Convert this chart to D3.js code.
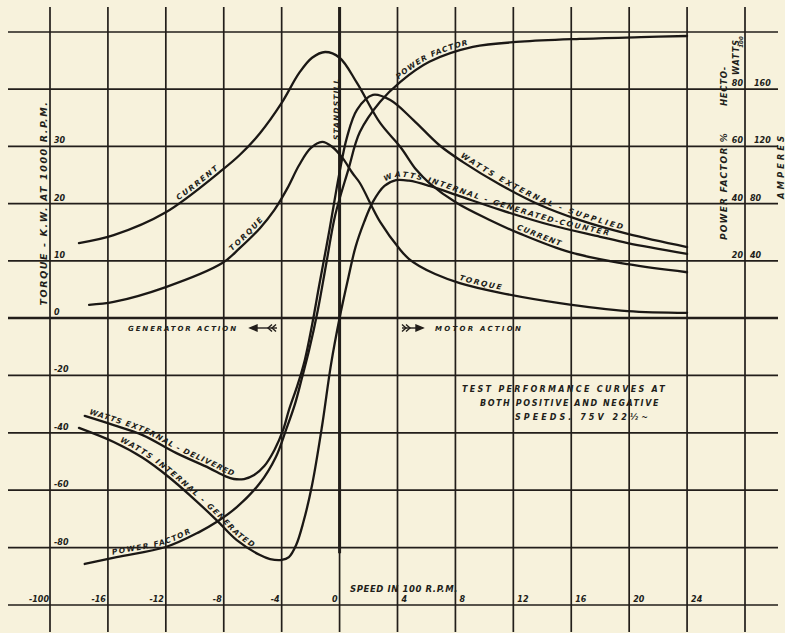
<!DOCTYPE html>
<html>
<head>
<meta charset="utf-8">
<script src="https://cdn.jsdelivr.net/npm/d3@7"></script>
<style>
  html, body { margin: 0; padding: 0; background: #f7f2dc; }
  svg { display: block; }
  text { font-family: "DejaVu Sans", sans-serif; font-weight: bold; font-style: italic; fill: #221e1a; }
</style>
</head>
<body>
<div id="chart"></div>
<script>
// Speed in hundreds of r.p.m. on x, left-hand scale on y.
// Left scale: 10 per square above zero, 20 per square below zero.
// Power factor % and hecto-watts read 2x the left scale, amperes 4x.

const speedGrid = [-20, -16, -12, -8, -4, 0, 4, 8, 12, 16, 20, 24, 28];
const valueGrid = [-100, -80, -60, -40, -20, 0, 10, 20, 30, 40, 50];
const speedTicks = [-16, -12, -8, -4, 0, 4, 8, 12, 16, 20, 24];
const leftTicks = [30, 20, 10, 0, -20, -40, -60, -80, -100];
const powerFactorTicks = [20, 40, 60, 80, 100];
const ampereTicks = [40, 80, 120, 160];

// [speed, value on left scale]
const current = [[-18.0, 13.1], [-15.6, 14.5], [-12.0, 18.5], [-8.1, 25.9], [-6.9, 28.5], [-5.5, 32.3],
    [-4.0, 37.6], [-2.8, 42.8], [-1.9, 45.5], [-1.0, 46.5], [0, 45.5], [1.2, 41.1], [2.8, 34.1], [4.2, 29.9],
    [5.3, 25.9], [6.2, 23.6], [8.1, 20.1], [10.4, 17.1], [12.5, 14.7], [15.9, 11.5], [19.9, 9.4], [24.0, 8.0]];
const torque = [[-17.3, 2.3], [-15.6, 2.8], [-12.0, 5.4], [-8.1, 9.6], [-6.9, 12.2], [-5.5, 15.7],
    [-4.5, 18.9], [-3.6, 22.7], [-2.8, 26.7], [-2.0, 29.7], [-1.2, 30.8], [-0.5, 29.9], [0.2, 28.0],
    [0.9, 25.3], [1.4, 23.6], [2.8, 16.8], [4.2, 11.9], [4.8, 10.3], [5.5, 9.1], [6.6, 7.7], [8.3, 6.1],
    [11.1, 4.4], [15.2, 2.6], [19.9, 1.2], [24.0, 0.9]];
const wattsExternal = [[-17.6, -34.1], [-15.6, -37.3], [-13.6, -40.8], [-11.3, -47.0], [-9.0, -52.3],
    [-7.9, -55.1], [-7.3, -56.1], [-6.6, -56.1], [-5.9, -54.7], [-5.2, -51.6], [-4.5, -46.0], [-3.9, -39.0],
    [-3.5, -32.1], [-2.9, -23.3], [-2.4, -14.6], [-1.9, -2.4], [-1.4, 5.8], [-0.7, 15.4], [0, 25.5],
    [0.5, 31.5], [1.2, 36.4], [2.3, 39.0], [3.5, 38.1], [5.1, 34.6], [6.9, 30.2], [8.5, 27.3], [11.1, 23.3],
    [13.8, 19.8], [16.6, 17.1], [19.9, 14.7], [24.0, 12.4]];
const wattsInternal = [[-18.0, -38.3], [-15.6, -43.2], [-13.6, -48.7], [-11.8, -55.4], [-10.2, -62.4],
    [-8.5, -70.4], [-7.1, -77.4], [-5.5, -82.6], [-4.8, -84.0], [-4.0, -84.3], [-3.5, -83.3], [-3.0, -79.1],
    [-2.5, -71.1], [-1.9, -58.2], [-1.2, -37.3], [-0.6, -16.4], [0, 0], [0.6, 7.0], [1.1, 12.4], [1.7, 16.8],
    [2.3, 20.3], [3.1, 23.1], [3.9, 24.1], [4.8, 24.0], [6.2, 23.1], [8.3, 21.3], [11.1, 18.9], [14.5, 16.3],
    [18.0, 14.2], [19.9, 13.1], [24.0, 11.2]];
const powerFactor = [[-17.6, -85.7], [-15.4, -83.3], [-12.0, -79.8], [-9.7, -74.6], [-8.5, -71.1],
    [-7.1, -65.9], [-5.5, -57.5], [-4.4, -48.4], [-3.7, -39.0], [-3.1, -30.3], [-2.6, -20.9], [-2.1, -11.1],
    [-1.5, 1.4], [-0.9, 9.8], [-0.3, 18.0], [0.6, 25.9], [1.4, 32.5], [2.8, 37.8], [4.2, 41.3], [6.2, 44.8],
    [9.2, 47.4], [12.5, 48.3], [16.6, 48.8], [20.8, 49.1], [24.0, 49.3]];

const ink = '#221e1a';
const width = 785, height = 633;

const svg = d3.select('#chart')
    .append('svg')
    .attr('width', width)
    .attr('height', height);

svg.append('rect').attr('width', width).attr('height', height).attr('fill', '#f7f2dc');

// Scales
const x = d3.scaleLinear().domain([-20, 28]).range([50, 745]);
const y = d3.scaleLinear().domain([-100, 0, 50]).range([605, 318, 32]);
const pfScale = d3.scaleLinear().domain([0, 100]).range([y(0), y(50)]);
const ampScale = d3.scaleLinear().domain([0, 200]).range([y(0), y(50)]);

// Grid
svg.append('g')
    .selectAll('line')
    .data(speedGrid)
    .join('line')
    .attr('x1', d => x(d)).attr('x2', d => x(d))
    .attr('y1', 7).attr('y2', 632)
    .attr('stroke', ink)
    .attr('stroke-width', 1.7);

svg.append('g')
    .selectAll('line')
    .data(valueGrid)
    .join('line')
    .attr('x1', 8).attr('x2', 778)
    .attr('y1', d => y(d)).attr('y2', d => y(d))
    .attr('stroke', ink)
    .attr('stroke-width', d => d === 0 ? 2.6 : 1.7);

// Standstill line, drawn heavier
svg.append('line')
    .attr('x1', x(0)).attr('x2', x(0))
    .attr('y1', 7).attr('y2', y(-82))
    .attr('stroke', ink)
    .attr('stroke-width', 3);

// Tick labels
svg.append('g')
    .selectAll('text')
    .data(speedTicks)
    .join('text')
    .attr('x', d => d > 0 ? x(d) + 4 : x(d) - 2)
    .attr('y', y(-100) - 3)
    .attr('text-anchor', d => d > 0 ? 'start' : 'end')
    .style('font-size', '8px')
    .text(d => d);

svg.append('g')
    .selectAll('text')
    .data(leftTicks)
    .join('text')
    .attr('x', d => d === -100 ? x(-20) - 1 : x(-20) + 4)
    .attr('y', d => y(d) - 3)
    .attr('text-anchor', d => d === -100 ? 'end' : 'start')
    .style('font-size', '8px')
    .text(d => d);

svg.append('g')
    .selectAll('text')
    .data(powerFactorTicks.filter(d => d < 100))
    .join('text')
    .attr('x', x(28) - 2)
    .attr('y', d => pfScale(d) - 3)
    .attr('text-anchor', 'end')
    .style('font-size', '8px')
    .text(d => d);

svg.append('text')
    .attr('transform', `translate(${x(28) - 2},${pfScale(100) + 10}) rotate(-90)`)
    .attr('text-anchor', 'middle')
    .style('font-size', '5.5px')
    .text('100');

svg.append('g')
    .selectAll('text')
    .data(ampereTicks)
    .join('text')
    .attr('x', d => d < 100 ? x(28) + 5 : x(28) + 9)
    .attr('y', d => ampScale(d) - 3)
    .attr('text-anchor', 'start')
    .style('font-size', '8px')
    .text(d => d);

// Axis titles
function fitText(sel, target) {
    const n = sel.text().length;
    const natural = sel.node().getComputedTextLength();
    sel.attr('letter-spacing', Math.max(0, (target - natural) / n));
    return sel;
}

const titles = [
    { text: 'TORQUE - K.W. AT 1000 R.P.M.', x: 47, y: 203, size: 9.5, len: 205 },
    { text: 'POWER FACTOR %', x: 727, y: 186, size: 9, len: 108 },
    { text: 'HECTO-', x: 727, y: 86, size: 8.5, len: 40 },
    { text: 'WATTS', x: 739, y: 57, size: 8, len: 36 },
    { text: 'AMPERES', x: 784, y: 166, size: 8.5, len: 66 }
];
titles.forEach(t => {
    const el = svg.append('text')
        .attr('transform', `translate(${t.x},${t.y}) rotate(-90)`)
        .attr('text-anchor', 'middle')
        .style('font-size', t.size + 'px')
        .text(t.text);
    fitText(el, t.len);
});

// Curves
const line = d3.line()
    .x(d => x(d[0]))
    .y(d => y(d[1]))
    .curve(d3.curveCatmullRom.alpha(0.5));

const curves = { current, torque, wattsExternal, wattsInternal, powerFactor };
const paths = {};
Object.keys(curves).forEach(name => {
    paths[name] = svg.append('path')
        .attr('id', `curve-${name}`)
        .attr('d', line(curves[name]))
        .attr('fill', 'none')
        .attr('stroke', '#1b1815')
        .attr('stroke-width', 2.3)
        .attr('stroke-linecap', 'round');
});

// Labels written along the curves
function offsetAtX(node, px) {
    const total = node.getTotalLength();
    for (let l = 0; l <= total; l += 0.5) {
        if (node.getPointAtLength(l).x >= px) return l;
    }
    return 0;
}

const curveLabels = [
    { curve: 'current', text: 'CURRENT', from: 180, len: 52 },
    { curve: 'torque', text: 'TORQUE', from: 234, len: 46 },
    { curve: 'powerFactor', text: 'POWER FACTOR', from: 400, len: 78 },
    { curve: 'wattsExternal', text: 'WATTS EXTERNAL - SUPPLIED', from: 458, len: 182 },
    { curve: 'wattsInternal', text: 'WATTS INTERNAL - GENERATED-COUNTER', from: 386, len: 232 },
    { curve: 'current', text: 'CURRENT', from: 515, len: 48 },
    { curve: 'torque', text: 'TORQUE', from: 458, len: 45 },
    { curve: 'wattsExternal', text: 'WATTS EXTERNAL - DELIVERED', from: 88, len: 158 },
    { curve: 'wattsInternal', text: 'WATTS INTERNAL - GENERATED', from: 118, len: 172 },
    { curve: 'powerFactor', text: 'POWER FACTOR', from: 113, len: 84 }
];

curveLabels.forEach(lab => {
    const node = paths[lab.curve].node();
    const t = svg.append('text')
        .attr('dy', -3)
        .style('font-size', '7.5px');
    t.append('textPath')
        .attr('href', `#curve-${lab.curve}`)
        .attr('startOffset', offsetAtX(node, lab.from))
        .text(lab.text);
    fitText(t, lab.len);
});

// Standstill note
fitText(svg.append('text')
    .attr('transform', `translate(${x(0) - 1},109) rotate(-90)`)
    .attr('text-anchor', 'middle')
    .style('font-size', '7.5px')
    .text('STANDSTILL'), 62);

// Action notes and arrows
fitText(svg.append('text')
    .attr('x', 128).attr('y', 331)
    .style('font-size', '7px')
    .text('GENERATOR ACTION'), 110);

fitText(svg.append('text')
    .attr('x', 435).attr('y', 331)
    .style('font-size', '7px')
    .text('MOTOR ACTION'), 88);

const arrows = svg.append('g')
    .attr('stroke', ink)
    .attr('fill', ink)
    .attr('stroke-width', 1.4);
// generator arrow points left
arrows.append('line').attr('x1', 252).attr('x2', 277).attr('y1', 328).attr('y2', 328);
arrows.append('path').attr('d', 'M250,328 L257,325 L257,331 Z');
arrows.append('path').attr('fill', 'none').attr('d', 'M272,324.5 L268,328 L272,331.5 M276,324.5 L272,328 L276,331.5');
// motor arrow points right
arrows.append('line').attr('x1', 402).attr('x2', 420).attr('y1', 328).attr('y2', 328);
arrows.append('path').attr('d', 'M423,328 L416,325 L416,331 Z');
arrows.append('path').attr('fill', 'none').attr('d', 'M402,324.5 L406,328 L402,331.5 M406,324.5 L410,328 L406,331.5');

// Test note
const notes = [
    { text: 'TEST PERFORMANCE CURVES AT', x: 462, y: 392, len: 205 },
    { text: 'BOTH POSITIVE AND NEGATIVE', x: 480, y: 406, len: 180 },
    { text: 'SPEEDS.  75V  22½~', x: 515, y: 420, len: 142 }
];
notes.forEach(n => {
    fitText(svg.append('text')
        .attr('x', n.x).attr('y', n.y)
        .style('font-size', '8px')
        .text(n.text), n.len);
});

// X axis title
fitText(svg.append('text')
    .attr('x', 350).attr('y', 592)
    .style('font-size', '8.5px')
    .text('SPEED IN 100 R.P.M.'), 108);
</script>
</body>
</html>
